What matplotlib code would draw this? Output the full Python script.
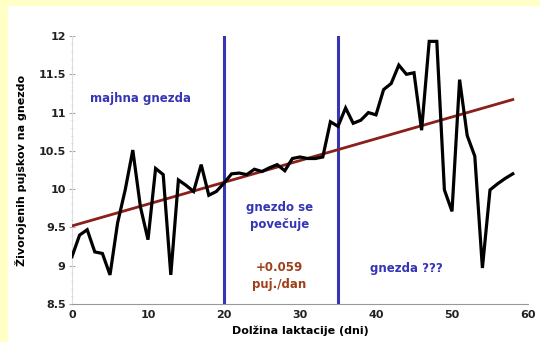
import matplotlib.pyplot as plt
from matplotlib.patches import Rectangle
from matplotlib.ticker import MultipleLocator

# days of lactation and live-born piglets per litter
days = list(range(0, 59))
piglets = [9.12, 9.40, 9.47, 9.18, 9.16, 8.88, 9.56, 9.99, 10.51, 9.77,
           9.34, 10.27, 10.19, 8.88, 10.12, 10.05, 9.97, 10.32, 9.92, 9.97,
           10.08, 10.20, 10.21, 10.19, 10.26, 10.23, 10.28, 10.32, 10.24, 10.40,
           10.42, 10.40, 10.40, 10.42, 10.88, 10.82, 11.06, 10.86, 10.90, 11.00,
           10.97, 11.30, 11.38, 11.62, 11.50, 11.52, 10.77, 11.93, 11.93, 9.99,
           9.71, 11.43, 10.70, 10.43, 8.97, 9.99, 10.07, 10.14, 10.20]

# linear trend
trend_x = [0, 58]
trend_y = [9.52, 11.17]

# phase boundaries
borders = [20, 35]

yticks = [8.5, 9, 9.5, 10, 10.5, 11, 11.5, 12]
ytick_labels = ['8.5', '9', '9.5', '10', '10.5', '11', '11.5', '12']
xticks = [0, 10, 20, 30, 40, 50, 60]

blue = '#3535b5'
dark_red = '#8b1f1a'

fig = plt.figure(figsize=(5.4, 3.42), dpi=100)
fig.patch.set_facecolor('white')

# yellow frame on top and left edge
fig.patches.append(Rectangle((0, 1 - 5 / 342), 1, 5 / 342, transform=fig.transFigure,
                             color='#ffffc6', zorder=0))
fig.patches.append(Rectangle((0, 0), 7 / 540, 1, transform=fig.transFigure,
                             color='#ffffc6', zorder=0))

ax = fig.add_axes([72 / 540, 1 - 304 / 342, 456 / 540, 268 / 342])

for b in borders:
    ax.plot([b, b], [8.5, 12], color=blue, lw=2.2, zorder=2)

ax.plot(trend_x, trend_y, color=dark_red, lw=2, zorder=3)
ax.plot(days, piglets, color='black', lw=2.3, zorder=4, solid_joinstyle='miter')

ax.set_xlim(0, 60)
ax.set_ylim(8.5, 12)
ax.set_xticks(xticks)
ax.set_yticks(yticks)
ax.set_yticklabels(ytick_labels)
ax.yaxis.set_minor_locator(MultipleLocator(0.1))
ax.tick_params(axis='x', length=0, labelsize=8, pad=4)
ax.tick_params(axis='y', which='major', direction='inout', length=5, color='#aaaaaa',
               labelsize=8, pad=2)
ax.tick_params(axis='y', which='minor', direction='inout', length=2, color='#cccccc')
for lab in ax.get_xticklabels() + ax.get_yticklabels():
    lab.set_fontweight('bold')
    lab.set_color('#222222')

ax.spines['top'].set_visible(False)
ax.spines['right'].set_visible(False)
ax.spines['left'].set_color('#dddddd')
ax.spines['bottom'].set_color('#999999')

ax.set_xlabel('Dolžina laktacije (dni)', fontsize=8, fontweight='bold', labelpad=4)
ax.set_ylabel('Živorojenih pujskov na gnezdo', fontsize=8, fontweight='bold', labelpad=8)

ax.text(2.4, 11.19, 'majhna gnezda', color=blue, fontsize=8.5, fontweight='bold',
        va='center', ha='left')
ax.text(27.3, 9.65, 'gnezdo se\npovečuje', color=blue, fontsize=8.5, fontweight='bold',
        va='center', ha='center', linespacing=1.4)
ax.text(27.3, 8.87, '+0.059\npuj./dan', color='#a0401a', fontsize=8.5, fontweight='bold',
        va='center', ha='center', linespacing=1.4)
ax.text(39.2, 8.97, 'gnezda ???', color=blue, fontsize=8.5, fontweight='bold',
        va='center', ha='left')

fig.savefig('out.png', dpi=100)
